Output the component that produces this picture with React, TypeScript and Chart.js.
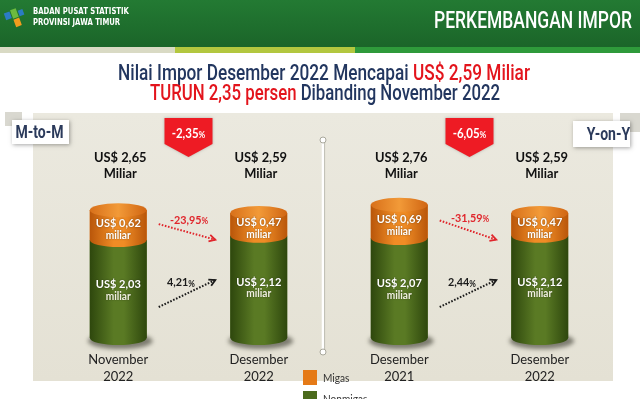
import { useEffect, useRef } from "react";
import { Chart, registerables } from "chart.js";

Chart.register(...registerables);

// ---------- data ----------
const categories: string[][] = [
  ["November", "2022"],
  ["Desember", "2022"],
  ["Desember", "2021"],
  ["Desember", "2022"],
];
const seriesNames = ["Nonmigas", "Migas"];
const nonmigas = [2.03, 2.12, 2.07, 2.12];
const migas = [0.62, 0.47, 0.69, 0.47];
const totals = [2.65, 2.59, 2.76, 2.59];
const comparisons = ["M-to-M", "Y-on-Y"];
const totalChange = [-2.35, -6.05];
const migasChange = [-23.95, -31.59];
const nonmigasChange = [4.21, 2.44];
const pairs = [
  [0, 1],
  [2, 3],
];

const GREEN = "#4b6b1c";
const ORANGE = "#e57a17";
const NAVY = "#22365f";
const RED = "#e3141c";

const fmt = (v: number) => {
  const s = Math.abs(v).toFixed(2).replace(".", ",");
  return (v < 0 ? "-" : "") + s;
};

function txt(
  ctx: CanvasRenderingContext2D,
  s: string,
  x: number,
  y: number,
  font: string,
  color: string,
  align: "left" | "center" | "right" = "center",
  sx = 1
) {
  ctx.save();
  ctx.font = font;
  ctx.fillStyle = color;
  ctx.textBaseline = "middle";
  ctx.textAlign = "left";
  const w = ctx.measureText(s).width * sx;
  const left = align === "center" ? x - w / 2 : align === "right" ? x - w : x;
  ctx.translate(left, y);
  ctx.scale(sx, 1);
  ctx.fillText(s, 0, 0);
  ctx.restore();
  return w;
}

function segments(
  ctx: CanvasRenderingContext2D,
  segs: { t: string; c: string }[],
  cx: number,
  y: number,
  font: string,
  targetW: number
) {
  ctx.save();
  ctx.font = font;
  const total = segs.reduce((a, s) => a + ctx.measureText(s.t).width, 0);
  ctx.restore();
  const sx = targetW / total;
  let x = cx - targetW / 2;
  segs.forEach((s) => {
    x += txt(ctx, s.t, x, y, font, s.c, "left", sx);
  });
}

// number + small percent sign
function pct(
  ctx: CanvasRenderingContext2D,
  v: number,
  x: number,
  y: number,
  color: string,
  size: number,
  sx = 0.9
) {
  const num = fmt(v);
  const f1 = `bold ${size}px Lato`;
  const f2 = `bold ${Math.round(size * 0.72)}px Lato`;
  ctx.save();
  ctx.font = f1;
  const w1 = ctx.measureText(num).width * sx;
  ctx.font = f2;
  const w2 = ctx.measureText("%").width * sx;
  ctx.restore();
  const left = x - (w1 + w2) / 2;
  txt(ctx, num, left, y, f1, color, "left", sx);
  txt(ctx, "%", left + w1, y + size * 0.1, f2, color, "left", sx);
}

function arrow(
  ctx: CanvasRenderingContext2D,
  x1: number,
  y1: number,
  x2: number,
  y2: number,
  color: string
) {
  ctx.save();
  ctx.strokeStyle = color;
  ctx.lineWidth = 2;
  ctx.setLineDash([1.6, 1.6]);
  ctx.beginPath();
  ctx.moveTo(x1, y1);
  ctx.lineTo(x2, y2);
  ctx.stroke();
  ctx.setLineDash([]);
  const a = Math.atan2(y2 - y1, x2 - x1);
  const L = 7;
  ctx.lineWidth = 1.8;
  ctx.beginPath();
  ctx.moveTo(x2 - L * Math.cos(a - 0.5), y2 - L * Math.sin(a - 0.5));
  ctx.lineTo(x2, y2);
  ctx.lineTo(x2 - L * Math.cos(a + 0.5), y2 - L * Math.sin(a + 0.5));
  ctx.stroke();
  ctx.restore();
}

function body(
  ctx: CanvasRenderingContext2D,
  cx: number,
  w: number,
  top: number,
  bottom: number,
  ry: number,
  edge: string,
  mid: string
) {
  const l = cx - w / 2;
  const r = cx + w / 2;
  const g = ctx.createLinearGradient(l, 0, r, 0);
  g.addColorStop(0, edge);
  g.addColorStop(0.42, mid);
  g.addColorStop(0.6, mid);
  g.addColorStop(1, edge);
  ctx.fillStyle = g;
  ctx.beginPath();
  ctx.moveTo(l, top);
  ctx.lineTo(l, bottom);
  ctx.ellipse(cx, bottom, w / 2, ry, 0, Math.PI, 0, true);
  ctx.lineTo(r, top);
  ctx.closePath();
  ctx.fill();
}

const infoPlugin = {
  id: "info",
  beforeDraw(chart: any) {
    const ctx: CanvasRenderingContext2D = chart.ctx;
    const W = chart.width;
    ctx.save();
    ctx.fillStyle = "#ffffff";
    ctx.fillRect(0, 0, W, chart.height);

    // header band
    const hg = ctx.createLinearGradient(0, 0, 0, 47);
    hg.addColorStop(0, "#237a33");
    hg.addColorStop(1, "#1b6529");
    ctx.fillStyle = hg;
    ctx.fillRect(0, 0, W, 47);
    ctx.fillStyle = "#d9dac4";
    ctx.fillRect(0, 47, 175, 6);
    ctx.fillStyle = "#b3c73f";
    ctx.fillRect(175, 47, 180, 6);
    ctx.fillStyle = "#2f9a3b";
    ctx.fillRect(355, 47, W - 355, 6);

    // logo
    ctx.save();
    ctx.translate(15, 18);
    ctx.rotate(-0.35);
    ctx.fillStyle = "#2b7cc4";
    ctx.fillRect(-9, -8, 6, 7);
    ctx.fillStyle = "#6dbb3f";
    ctx.fillRect(-2, -9, 6, 9);
    ctx.fillStyle = "#f39c1e";
    ctx.fillRect(-2, 1, 6, 8);
    ctx.fillStyle = "#2b7cc4";
    ctx.fillRect(5, -6, 5, 6);
    ctx.restore();
    txt(ctx, "BADAN PUSAT STATISTIK", 33, 12, "bold 8px 'DejaVu Sans'", "#ffffff", "left", 0.86);
    txt(ctx, "PROVINSI JAWA TIMUR", 33, 23, "bold 8px 'DejaVu Sans'", "#ffffff", "left", 0.86);
    txt(ctx, "PERKEMBANGAN IMPOR", 632, 22, "500 23px Roboto", "#ffffff", "right", 0.76);

    // title
    const dec = categories[1].join(" ");
    const nov = categories[0].join(" ");
    segments(
      ctx,
      [
        { t: `Nilai Impor ${dec} Mencapai `, c: NAVY },
        { t: `US$ ${fmt(totals[1])} Miliar`, c: RED },
      ],
      324,
      74,
      "500 22px Roboto",
      412
    );
    segments(
      ctx,
      [
        { t: `TURUN ${fmt(Math.abs(totalChange[0]))} persen`, c: RED },
        { t: ` Dibanding ${nov}`, c: NAVY },
      ],
      325,
      94,
      "500 22px Roboto",
      350
    );

    // panel
    const pg = ctx.createLinearGradient(0, 113, 0, 381);
    pg.addColorStop(0, "#ebe9df");
    pg.addColorStop(1, "#e4e1d4");
    ctx.fillStyle = pg;
    ctx.fillRect(33, 113, 580, 268);

    // divider
    ctx.strokeStyle = "#ffffff";
    ctx.lineWidth = 2.5;
    ctx.beginPath();
    ctx.moveTo(323, 140);
    ctx.lineTo(323, 352);
    ctx.stroke();
    ctx.strokeStyle = "rgba(150,150,140,0.7)";
    ctx.lineWidth = 0.8;
    ctx.beginPath();
    ctx.moveTo(324.6, 141);
    ctx.lineTo(324.6, 351);
    ctx.stroke();
    [140, 352].forEach((yy) => {
      ctx.fillStyle = "#ffffff";
      ctx.strokeStyle = "#a9a89c";
      ctx.lineWidth = 1;
      ctx.beginPath();
      ctx.arc(323, yy, 3, 0, Math.PI * 2);
      ctx.fill();
      ctx.stroke();
    });

    // comparison boxes
    ctx.fillStyle = "#d9d8d0";
    ctx.fillRect(5, 112, 17, 14);
    ctx.fillRect(620, 113, 20, 19);
    const boxes = [
      { x: 12, y: 120, w: 57, h: 24 },
      { x: 573, y: 121, w: 57, h: 26 },
    ];
    boxes.forEach((b, i) => {
      ctx.save();
      ctx.shadowColor = "rgba(0,0,0,0.35)";
      ctx.shadowBlur = 4;
      ctx.shadowOffsetX = 1;
      ctx.shadowOffsetY = 1;
      ctx.fillStyle = "#ffffff";
      ctx.fillRect(b.x, b.y, b.w, b.h);
      ctx.restore();
      txt(
        ctx,
        comparisons[i],
        i === 0 ? b.x + b.w / 2 - 1 : b.x + b.w / 2 + 7,
        b.y + b.h / 2 + 1,
        "bold 18px Roboto",
        "#2b3a5b",
        "center",
        0.78
      );
    });

    ctx.restore();
  },
  afterDatasetsDraw(chart: any) {
    const ctx: CanvasRenderingContext2D = chart.ctx;
    const gMeta = chart.getDatasetMeta(0).data;
    const oMeta = chart.getDatasetMeta(1).data;
    const ry = 7;
    ctx.save();

    gMeta.forEach((g: any, i: number) => {
      const o = oMeta[i];
      const w = g.width;
      const cx = g.x;
      // shadow
      ctx.save();
      ctx.fillStyle = "rgba(40,40,30,0.55)";
      ctx.filter = "blur(2px)";
      ctx.beginPath();
      ctx.ellipse(cx + 2, g.base + 3, w / 2 + 4, ry + 1, 0, 0, Math.PI * 2);
      ctx.fill();
      ctx.restore();
      // green body
      body(ctx, cx, w, g.y, g.base, ry, "#2e470d", "#5a7a24");
      // orange body
      body(ctx, cx, w, o.y, o.base, ry, "#b9560a", "#f08c25");
      // top cap
      const cg = ctx.createLinearGradient(cx - w / 2, 0, cx + w / 2, 0);
      cg.addColorStop(0, "#d8701a");
      cg.addColorStop(0.5, "#f29a38");
      cg.addColorStop(1, "#d06512");
      ctx.fillStyle = cg;
      ctx.beginPath();
      ctx.ellipse(cx, o.y, w / 2, ry, 0, 0, Math.PI * 2);
      ctx.fill();

      // labels inside
      ctx.save();
      ctx.shadowColor = "rgba(0,0,0,0.45)";
      ctx.shadowBlur = 2;
      const oc = (o.y + o.base) / 2;
      txt(ctx, `US$ ${fmt(migas[i])}`, cx, oc - 2, "bold 12px Lato", "#ffffff", "center", 0.92);
      txt(ctx, "miliar", cx, oc + 10, "bold 11px Lato", "#ffffff", "center", 0.92);
      const gc = (g.y + g.base) / 2;
      txt(ctx, `US$ ${fmt(nonmigas[i])}`, cx, gc - 5, "bold 12px Lato", "#ffffff", "center", 0.92);
      txt(ctx, "miliar", cx, gc + 7, "bold 11px Lato", "#f0f0e0", "center", 0.92);
      ctx.restore();

      // totals above
      txt(ctx, `US$ ${fmt(totals[i])}`, cx + 2, 157, "bold 14px Lato", "#111111", "center", 0.92);
      txt(ctx, "Miliar", cx + 2, 173, "bold 14px Lato", "#111111", "center", 0.92);
    });

    // arrows & badges per pair
    pairs.forEach(([a, b], k) => {
      const L = gMeta[a];
      const R = gMeta[b];
      const Lo = oMeta[a];
      const Ro = oMeta[b];
      const w = L.width;
      const sx = L.x + w / 2 + 12;
      const ex = R.x - w / 2 - 15;
      // migas arrow
      const y1 = (Lo.y + Lo.base) / 2 - 1;
      const y2 = Ro.base + 4;
      arrow(ctx, sx, y1, ex, y2, "#e0262c");
      pct(ctx, migasChange[k], (sx + ex) / 2 + 2, (y1 + y2) / 2 - 12, "#e0262c", 12);
      // nonmigas arrow
      const y3 = L.base - 31;
      const y4 = L.base - 58;
      arrow(ctx, sx, y3, ex, y4, "#1a1a1a");
      pct(ctx, nonmigasChange[k], (sx + ex) / 2 - 6, (y3 + y4) / 2 - 11, "#1a1a1a", 12);

      // badge
      const bx = (L.x + R.x) / 2;
      ctx.save();
      ctx.shadowColor = "rgba(0,0,0,0.25)";
      ctx.shadowBlur = 3;
      ctx.fillStyle = "#ee1b24";
      ctx.beginPath();
      ctx.moveTo(bx - 24, 118);
      ctx.lineTo(bx + 24, 118);
      ctx.lineTo(bx + 24, 144);
      ctx.lineTo(bx, 157);
      ctx.lineTo(bx - 24, 144);
      ctx.closePath();
      ctx.fill();
      ctx.restore();
      pct(ctx, totalChange[k], bx, 133, "#ffffff", 14, 0.82);
    });
    ctx.restore();
  },
  afterDraw(chart: any) {
    const ctx: CanvasRenderingContext2D = chart.ctx;
    ctx.save();
    const items = [
      { name: seriesNames[1], color: ORANGE, y: 370, h: 15 },
      { name: seriesNames[0], color: GREEN, y: 391, h: 15 },
    ];
    items.forEach((it) => {
      ctx.fillStyle = it.color;
      ctx.fillRect(303, it.y, 14, it.h);
      txt(ctx, it.name, 323, it.y + 8, "11px Lato", "#333333", "left", 0.92);
    });
    // reference image content ends here
    ctx.fillStyle = "#ffffff";
    ctx.fillRect(0, 399, chart.width, chart.height - 399);
    ctx.restore();
  },
};

export default function App() {
  const ref = useRef<HTMLCanvasElement | null>(null);
  useEffect(() => {
    document.body.style.margin = "0";
    if (!ref.current) return;
    const chart = new Chart(ref.current, {
      type: "bar",
      data: {
        labels: categories,
        datasets: [
          { label: seriesNames[0], data: nonmigas, backgroundColor: GREEN },
          { label: seriesNames[1], data: migas, backgroundColor: ORANGE },
        ],
      },
      options: {
        responsive: false,
        animation: false,
        layout: { padding: { left: 48, right: 30, top: 145, bottom: 0 } },
        datasets: { bar: { barPercentage: 0.405, categoryPercentage: 1 } } as any,
        plugins: { legend: { display: false }, tooltip: { enabled: false } },
        scales: {
          x: {
            stacked: true,
            grid: { display: false, drawTicks: false },
            border: { display: false },
            ticks: {
              font: { family: "Lato", size: 13, lineHeight: 1.3 },
              color: "#222222",
              padding: 13,
            },
            afterFit: (s: any) => {
              s.height = 76;
            },
          },
          y: { stacked: true, display: false, min: 0, max: 4 },
        },
      },
      plugins: [infoPlugin],
    });
    return () => chart.destroy();
  }, []);
  return (
    <div style={{ width: 640, height: 414 }}>
      <canvas ref={ref} width={640} height={414} style={{ display: "block" }} />
    </div>
  );
}
